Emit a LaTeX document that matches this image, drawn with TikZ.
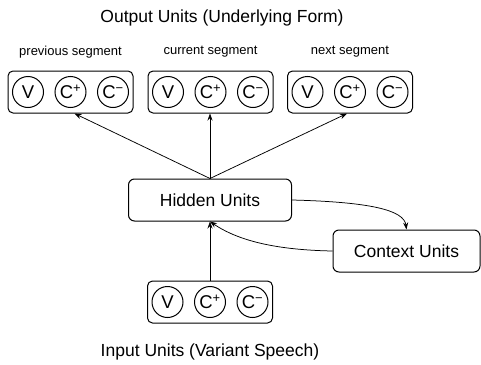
\documentclass[tikz,border=0pt]{standalone}
\usepackage{fontspec}
\setmainfont{Liberation Sans}
\usetikzlibrary{arrows.meta}
\tikzset{
  unitbox/.style={draw, line width=1pt, rounded corners=5pt, minimum width=125pt, minimum height=42pt},
  unit/.style={draw, line width=1pt, circle, minimum size=31pt, inner sep=0pt, font=\fontsize{18.5}{18}\selectfont},
  layer/.style={draw, line width=1pt, rounded corners=6pt, minimum height=42pt, font=\fontsize{17.5}{20}\selectfont},
  link/.style={-{Stealth[length=7pt,width=5pt]}, line width=0.75pt}
}

\begin{document}
\begin{tikzpicture}[x=1pt,y=-1pt]
	\useasboundingbox (0,0) rectangle (481,364);
	\node[font=\fontsize{17.5}{20}\selectfont] (outlbl) at (222,18) {Output Units (Underlying Form)};

	% output segments
	\foreach \name/\x/\lbl in {prev/70.5/previous segment, cur/210.5/current segment, next/350/next segment}{
		\node[unitbox] (\name) at (\x,92) {};
		\node[unit] (\name v) at (\x-42.5,92) {V};
		\node[unit] (\name cp) at (\x,92) {C\textsuperscript{+}};
		\node[unit] (\name cm) at (\x+42.5,92) {C\textsuperscript{−}};
		\node[font=\fontsize{13}{15}\selectfont] (\name lbl) at (\x,52) {\lbl};
	}

	\node[layer, minimum width=163pt] (hidden) at (210,200) {Hidden Units};
	\node[layer, minimum width=147pt] (context) at (406.5,251) {Context Units};

	% input segment
	\node[unitbox] (input) at (210,302) {};
	\node[unit] (input v) at (167.5,302) {V};
	\node[unit] (input cp) at (210,302) {C\textsuperscript{+}};
	\node[unit] (input cm) at (252.5,302) {C\textsuperscript{−}};
	\node[font=\fontsize{17.5}{20}\selectfont] (inlbl) at (210,352) {Input Units (Variant Speech)};

	\draw[link] (hidden.north) -- ([xshift=4pt]prev.south);
	\draw[link] (hidden.north) -- (cur.south -| hidden.north);
	\draw[link] (hidden.north) -- ([xshift=-3pt]next.south);
	\draw[link] (input.north) -- (hidden.south);
	\draw[link] (hidden.east) .. controls (370,202) and (404,210) .. (context.north);
	\draw[link] (context.west) .. controls (280,250) and (240,242) .. (hidden.south);
\end{tikzpicture}
\end{document}
